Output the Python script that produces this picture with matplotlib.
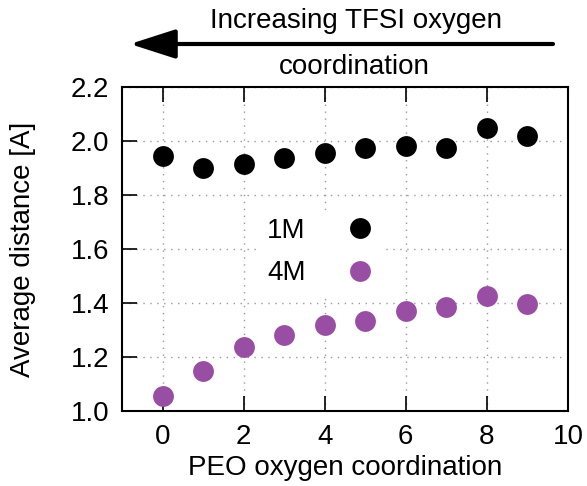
#!/usr/bin/env python3

import numpy as np
import matplotlib
matplotlib.use('Agg')
import matplotlib.pyplot as plt

plt.rcParams['font.family'] = ['Liberation Sans', 'DejaVu Sans']
plt.rcParams['font.size'] = 20

# PEO oxygen coordination number
coordination = [0, 1, 2, 3, 4, 5, 6, 7, 8, 9]
# average distance [A] for the two concentrations
dist_1m = [1.946, 1.899, 1.914, 1.938, 1.957, 1.973, 1.981, 1.974, 2.049, 2.020]
dist_4m = [1.056, 1.149, 1.237, 1.282, 1.320, 1.334, 1.369, 1.385, 1.427, 1.398]
labels = ['1M', '4M']
colors = ['black', '#984ea3']

fig = plt.figure(figsize=(5.87, 4.86), dpi=100)
ax = fig.add_axes([0.2078, 0.1543, 0.9676 - 0.2078, 0.821 - 0.1543])

for vals, lab, col in zip([dist_1m, dist_4m], labels, colors):
    ax.plot(coordination, vals, linestyle='none', marker='o', markersize=15,
            markeredgewidth=0, color=col, label=lab)

ax.set_xlim(-1, 10)
ax.set_ylim(1.0, 2.2)
ax.set_xticks(np.arange(0, 11, 2))
ax.set_yticks(np.arange(1.0, 2.21, 0.2))
ax.set_yticklabels([f'{t:.1f}' for t in np.arange(1.0, 2.21, 0.2)])
ax.tick_params(direction='in', length=11, width=1.2, top=True, right=False, pad=9)
ax.grid(True, linestyle=(0, (1, 4)), color='#999999', linewidth=1)
for s in ax.spines.values():
    s.set_linewidth(1.5)

ax.set_xlabel('PEO oxygen coordination')
ax.set_ylabel('Average distance [A]')
ax.xaxis.set_label_coords(0.5, -0.137)
ax.yaxis.set_label_coords(-0.193, 0.5)

leg = ax.legend(loc='center', bbox_to_anchor=(0.445, 0.49), markerfirst=False,
                frameon=True, framealpha=1, facecolor='white', edgecolor='none',
                handlelength=1.0, handletextpad=1.44, labelspacing=0.58,
                borderpad=0.3, fancybox=False)

# arrow and label above the plot
fig.text(356 / 587, 1 - 21 / 486, 'Increasing TFSI oxygen', ha='center', va='center')
fig.text(354 / 587, 1 - 67 / 486, 'coordination', ha='center', va='center')
ax.annotate('', xy=(130 / 587, 1 - 44 / 486), xytext=(553 / 587, 1 - 44 / 486),
            xycoords='figure fraction', textcoords='figure fraction',
            arrowprops=dict(arrowstyle='-|>,head_length=1.4,head_width=0.45',
                            color='black', lw=3, shrinkA=0, shrinkB=0))

plt.savefig('out.png', dpi=100)
